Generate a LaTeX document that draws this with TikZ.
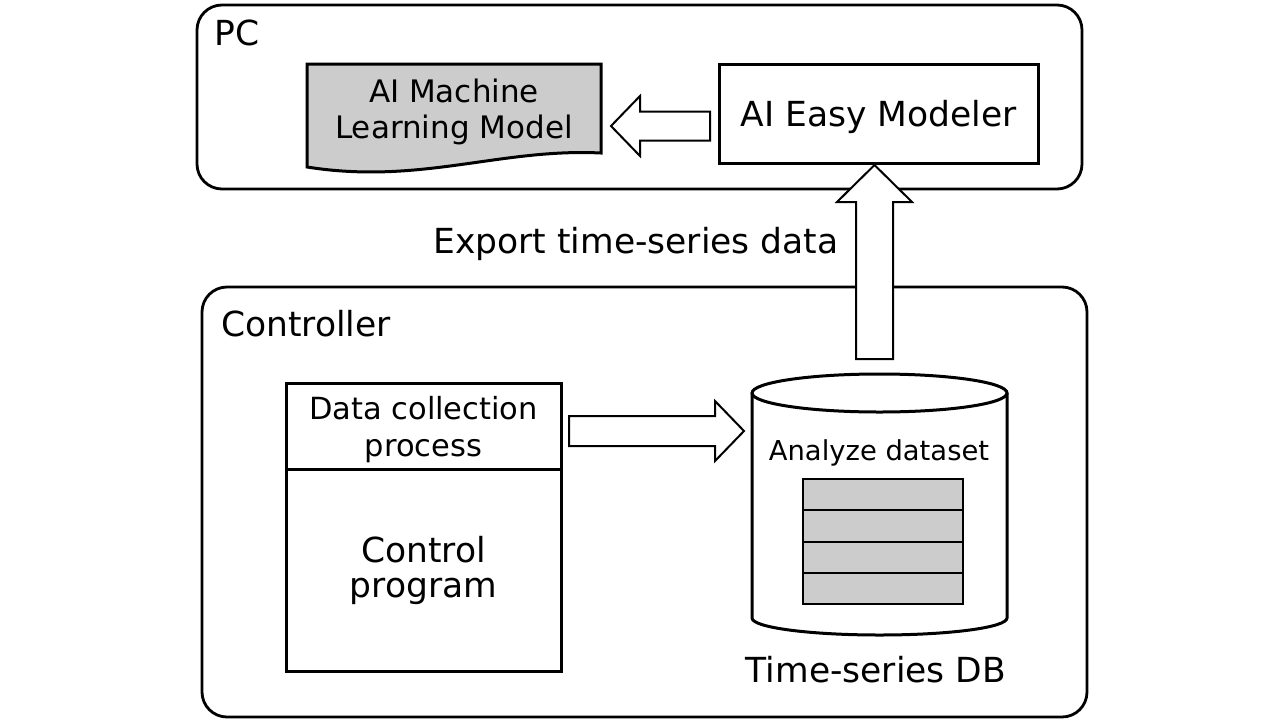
\documentclass[tikz,border=0pt]{standalone}
\usepackage{fontspec}
\setmainfont{DejaVu Sans}
\usetikzlibrary{positioning,calc}

\definecolor{fillgray}{RGB}{204,204,204}

\tikzset{
  group/.style={draw, line width=2.8pt, rounded corners=25pt, inner sep=0pt, outer sep=0pt},
  box/.style={draw, line width=3pt, align=center, inner sep=0pt, outer sep=0pt},
  hollow/.style={draw, line width=2pt, fill=white, line join=miter},
  rowbox/.style={draw, line width=2pt, fill=fillgray},
  bigfont/.style={font=\fontsize{34.5}{35}\selectfont},
  midfont/.style={font=\fontsize{31}{36}\selectfont},
  dcpfont/.style={font=\fontsize{30.5}{37}\selectfont},
  smallfont/.style={font=\fontsize{27.4}{32}\selectfont},
}

\begin{document}
\begin{tikzpicture}[x=1pt,y=-1pt]
\useasboundingbox (0,0) rectangle (1284,720);

% PC
\node[group, minimum width=885pt, minimum height=184pt] (pc) at (639.5,97) {};
\node[bigfont, anchor=base west, inner sep=0pt] (pclabel) at (214,45) {PC};

% model document with wavy bottom
\node[inner sep=0pt, outer sep=0pt, minimum width=294pt, minimum height=103pt] (mlmodel) at (454,115.5) {};
\draw[line width=3pt, fill=fillgray] (mlmodel.north west) -- (mlmodel.north east)
  -- ($(mlmodel.south east)+(0,-14)$) .. controls (500,148) and (420,185) .. (mlmodel.south west) -- cycle;
\node[midfont, align=center, inner sep=0pt] (mltext) at (454,112) {AI Machine\\Learning Model};

\node[box, bigfont, text depth=0pt, minimum width=319pt, minimum height=99pt] (modeler) at (878.5,113.5) {AI Easy Modeler};

% Controller
\node[group, minimum width=885pt, minimum height=430pt] (controller) at (644.5,502) {};
\node[bigfont, anchor=base west, inner sep=0pt] (ctrllabel) at (221,336) {Controller};

\node[box, dcpfont, text depth=0pt, minimum width=275pt, minimum height=86pt] (dcp) at (423.5,426) {Data collection\\process};
\node[box, bigfont, minimum width=275pt, minimum height=202pt, below=0pt of dcp] (ctrlprog) {Control\\program};

% time-series DB
\coordinate (dbtop) at (879.5,374);
\draw[line width=3pt, fill=white] (752,393) -- (752,618)
  arc[start angle=180, end angle=0, x radius=127.5, y radius=17] -- (1007,393);
\draw[line width=3pt] (879.5,393) ellipse[x radius=127.5, y radius=19];
\node[smallfont, anchor=base, inner sep=0pt] (dataset) at (879,460) {Analyze dataset};
\foreach \i in {0,...,3}
  \draw[rowbox] (803,479+31.25*\i) rectangle ++(160,31.25);
\node[bigfont, anchor=base, inner sep=0pt] (dblabel) at (876,682) {Time-series DB};

% block arrows
\coordinate (ltail) at ($(modeler.west)+(-9,12.5)$);
\coordinate (ltip) at ($(mlmodel.east)+(10,10.5)$);
\draw[hollow] (ltail) ++(0,-14.5) -- ++(-70,0) -- ++(0,-15.5) -- (ltip)
  -- ++(29,30) -- ++(0,-15.5) -- ++(70,0) -- cycle;

\coordinate (utip) at ($(modeler.south)+(-4,2)$);
\coordinate (utail) at ($(dbtop)+(-5,-15)$);
\draw[hollow] (utail) ++(-18.5,0) -- ++(0,-157) -- ++(-19,0) -- (utip)
  -- ++(37.5,37) -- ++(-19,0) -- ++(0,157) -- cycle;
\node[bigfont, anchor=base, inner sep=0pt] (export) at (636,253) {Export time-series data};

\coordinate (rtail) at ($(dcp.east)+(8,5)$);
\coordinate (rtip) at (744,431);
\draw[hollow] (rtail) ++(0,-15) -- ++(146,0) -- ++(0,-15) -- (rtip)
  -- ++(-29,30) -- ++(0,-15) -- ++(-146,0) -- cycle;
\end{tikzpicture}
\end{document}
